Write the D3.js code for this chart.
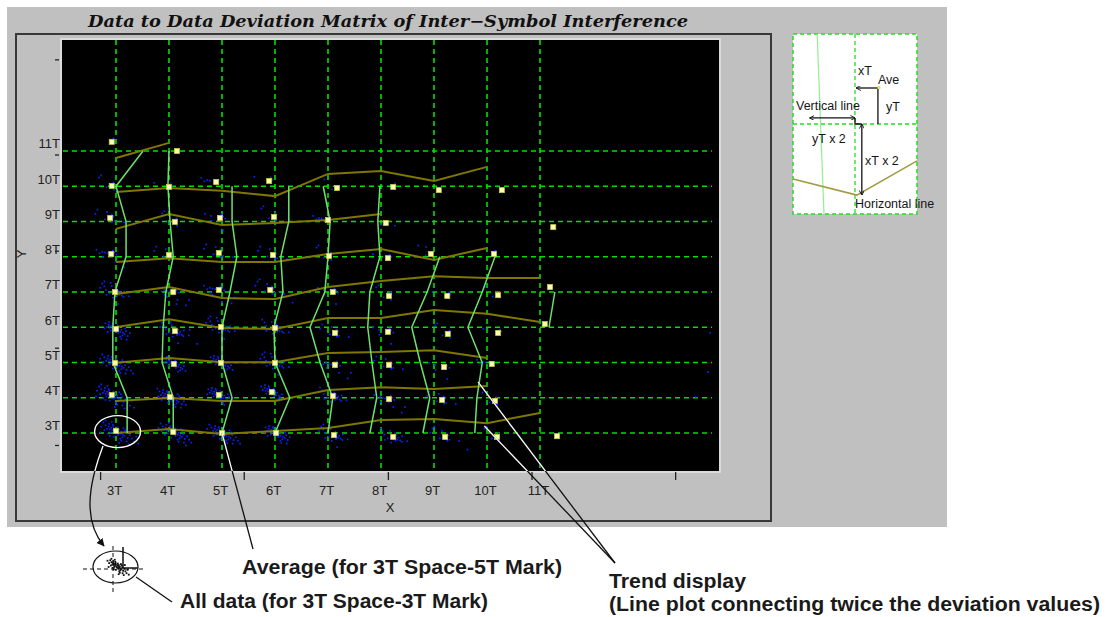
<!DOCTYPE html>
<html>
<head>
<meta charset="utf-8">
<script src="https://cdn.jsdelivr.net/npm/d3@7"></script>
<style>
body { margin: 0; background: #fff; }
svg { display: block; font-family: "Liberation Sans", Arial, sans-serif; }
</style>
</head>
<body>
<script>
// grid values, in T units
var cols = [3, 4, 5, 6, 7, 8, 9, 10, 11];
var rows = [3, 4, 5, 6, 7, 8, 9, 10, 11];
var xTickLabels = ["3T", "4T", "5T", "6T", "7T", "8T", "9T", "10T", "11T"];
var yTickLabels = ["3T", "4T", "5T", "6T", "7T", "8T", "9T", "10T", "11T"];
var minorTicksX = [2.7, 5.41, 8.13, 10.84, 13.55];
var minorTicksY = [2.66, 5.42, 8.17, 10.9, 13.6];

// averages [X, Y] per row (Y = 3T .. 11T)
var avgRows = [
    [[3.0, 3.06], [4.08, 3.03], [5.0, 3.0], [6.02, 3.0], [7.11, 2.94], [8.23, 2.89], [9.21, 2.89], [10.19, 2.89], [11.32, 2.91]],
    [[2.92, 4.08], [4.02, 4.02], [4.94, 4.08], [5.94, 4.16], [7.09, 4.05], [8.15, 3.96], [9.15, 3.94], [10.15, 3.91]],
    [[2.98, 4.99], [4.09, 4.96], [4.98, 4.99], [6.0, 4.99], [7.13, 4.93], [8.15, 4.93], [9.19, 4.87], [10.09, 4.96]],
    [[3.0, 5.95], [4.11, 5.89], [4.98, 6.01], [6.0, 5.98], [7.13, 5.84], [8.13, 5.87], [9.26, 5.81], [10.21, 5.84], [11.09, 6.09]],
    [[2.98, 7.0], [4.08, 7.0], [4.94, 7.06], [5.91, 7.06], [7.09, 7.0], [8.15, 6.89], [9.25, 6.89], [10.21, 6.91], [11.19, 7.14]],
    [[2.91, 8.08], [4.0, 8.05], [4.94, 8.11], [5.96, 8.05], [7.02, 8.02], [8.13, 7.96], [8.94, 8.08], [10.13, 8.08]],
    [[2.89, 9.1], [4.11, 8.99], [4.96, 9.1], [5.98, 9.13], [7.0, 9.04], [8.09, 8.96], [11.25, 8.84]],
    [[2.92, 10.01], [4.0, 9.98], [4.89, 10.12], [5.89, 10.15], [7.17, 9.95], [8.23, 9.98], [9.09, 9.89], [10.28, 9.89]],
    [[2.92, 11.26], [4.15, 11.0]]
];

// how many raw samples are visible round each average
var blueCount = [
    [46, 40, 38, 32, 22, 18, 12, 6, 0],
    [46, 36, 30, 26, 18, 14, 10, 6],
    [38, 28, 26, 22, 14, 10, 8, 5],
    [32, 24, 22, 18, 10, 8, 6, 4, 0],
    [22, 16, 16, 12, 8, 6, 4, 3, 0],
    [14, 10, 10, 10, 6, 4, 3, 2],
    [10, 6, 8, 6, 5, 3, 0],
    [6, 4, 5, 4, 3, 2, 1, 1],
    [2, 1]
];

// sample deviation from the average, [dX, dY] in T
var spread = [
    [0.02, 0.03], [-0.04, 0.05], [0.05, -0.04], [-0.07, 0.02], [0.08, -0.08], [-0.02, -0.03],
    [0.10, -0.02], [-0.09, 0.09], [0.04, -0.11], [-0.12, 0.04], [0.13, -0.10], [-0.05, 0.12],
    [0.06, 0.04], [-0.14, 0.12], [0.16, -0.14], [0.00, -0.07], [-0.10, -0.04], [0.12, -0.18],
    [-0.17, 0.06], [0.19, -0.06], [-0.06, 0.17], [0.08, -0.22], [-0.20, 0.16], [0.22, -0.20],
    [0.03, 0.10], [-0.13, 0.20], [0.17, 0.02], [-0.22, 0.02], [0.26, -0.12], [0.10, -0.28],
    [-0.16, -0.08], [0.20, -0.30], [-0.24, 0.24], [0.30, -0.22], [-0.04, -0.16], [0.14, 0.08],
    [-0.28, 0.12], [0.34, -0.30], [-0.08, 0.26], [0.24, -0.38], [-0.20, 0.30], [0.38, -0.16],
    [0.06, -0.34], [-0.30, -0.04], [0.42, -0.36], [-0.12, -0.14], [0.28, 0.04], [-0.34, 0.22]
];
var outliers = [[14.21, 5.84], [14.17, 4.73], [13.94, 4.02], [8.26, 8.88], [8.85, 8.28]];

// horizontal trend: Y value at X = 3T, 4T, ... for each row
var rowTrend = [
    [3.0, 3.11, 2.97, 3.06, 3.14, 3.37, 3.40, 3.28, 3.57],
    [3.91, 3.99, 3.91, 3.91, 4.22, 4.30, 4.25, 4.33],
    [4.99, 5.13, 5.01, 5.01, 5.27, 5.30, 5.35, 5.13],
    [6.01, 6.23, 5.98, 5.95, 6.26, 6.26, 6.49, 6.38, 6.15],
    [6.94, 7.14, 6.83, 6.80, 7.14, 7.31, 7.45, 7.40, 7.40],
    [7.85, 7.96, 7.85, 7.85, 8.08, 8.22, 7.91, 8.25],
    [8.79, 9.21, 8.90, 8.96, 9.04, 9.21],
    [9.84, 9.95, 9.87, 9.72, 10.35, 10.43, 10.15, 10.55],
    [10.80, 11.23]
];

// vertical trend: X value at Y = start, start+1, ... for each column
var colTrend = [
    [3.21, 3.21, 2.94, 2.94, 2.98, 3.19, 3.19, 3.0, 3.51],
    [4.08, 4.08, 3.87, 3.89, 3.94, 4.08, 4.02, 3.98, 4.0],
    [5.0, 5.19, 5.0, 5.0, 5.15, 5.28, 5.19, 5.19],
    [6.0, 6.28, 6.0, 5.98, 6.15, 6.11, 6.26, 6.26],
    [7.0, 7.09, 6.85, 6.66, 6.94, 7.0, 7.04, 6.91],
    [7.79, 7.92, 7.83, 7.75, 7.79, 7.98, 7.94, 7.98],
    [8.79, 8.92, 8.74, 8.58, 8.87, 9.11],
    [9.77, 9.81, 9.91, 9.64, 9.91, 10.15],
    [11.17, 11.28]
];
var colTrendStart = [3, 3, 3, 3, 3, 3, 3, 3, 6];

var svg = d3.select("body").append("svg")
    .attr("width", 1110)
    .attr("height", 617);

var x = d3.scaleLinear().domain([3, 11]).range([116, 540]);
var y = d3.scaleLinear().domain([3, 11]).range([433, 151]);
var plotL = 62, plotT = 40, plotR = 719, plotB = 471;

svg.append("rect").attr("x", 7).attr("y", 7).attr("width", 940).attr("height", 520).attr("fill", "#c0c0c0");

svg.append("text")
    .attr("x", 88).attr("y", 27)
    .attr("textLength", 600).attr("lengthAdjust", "spacingAndGlyphs")
    .style("font-family", "'DejaVu Serif', serif")
    .style("font-style", "italic").style("font-weight", "bold")
    .style("font-size", "16px").attr("fill", "#111")
    .text("Data to Data Deviation Matrix of Inter\u2212Symbol Interference");

svg.append("rect").attr("x", 16).attr("y", 34).attr("width", 755).attr("height", 487)
    .attr("fill", "none").attr("stroke", "#383838").attr("stroke-width", 2);

svg.append("rect").attr("x", plotL).attr("y", plotT).attr("width", plotR - plotL).attr("height", plotB - plotT)
    .attr("fill", "#000");
svg.append("rect").attr("x", plotL - 1).attr("y", plotT - 1).attr("width", plotR - plotL + 2).attr("height", plotB - plotT + 2)
    .attr("fill", "none").attr("stroke", "#e4e4e4").attr("stroke-width", 1.5);

var defs = svg.append("defs");
defs.append("clipPath").attr("id", "pc").append("rect")
    .attr("x", plotL).attr("y", plotT).attr("width", plotR - plotL).attr("height", plotB - plotT);
defs.append("marker").attr("id", "head").attr("viewBox", "0 0 10 10")
    .attr("refX", 9).attr("refY", 5).attr("markerWidth", 8).attr("markerHeight", 8)
    .attr("markerUnits", "userSpaceOnUse").attr("orient", "auto")
    .append("path").attr("d", "M0,0 L10,5 L0,10 Z").attr("fill", "#111");
defs.append("marker").attr("id", "tip").attr("viewBox", "0 0 8 8")
    .attr("refX", 7.5).attr("refY", 4).attr("markerWidth", 5).attr("markerHeight", 5)
    .attr("markerUnits", "userSpaceOnUse").attr("orient", "auto-start-reverse")
    .append("path").attr("d", "M0,0 L8,4 L0,8").attr("fill", "none").attr("stroke", "#111").attr("stroke-width", 1.4);

var plot = svg.append("g").attr("clip-path", "url(#pc)");

// dashed grid
plot.selectAll(".vg").data(cols).enter().append("line")
    .attr("x1", d => x(d)).attr("x2", d => x(d))
    .attr("y1", plotT).attr("y2", plotB)
    .attr("stroke", "#00e000").attr("stroke-width", 1.6).attr("stroke-dasharray", "5,4");
plot.selectAll(".hg").data(rows).enter().append("line")
    .attr("x1", 63).attr("x2", 712)
    .attr("y1", d => y(d)).attr("y2", d => y(d))
    .attr("stroke", "#00e000").attr("stroke-width", 1.6).attr("stroke-dasharray", "5,4");

// raw samples
var samples = [];
avgRows.forEach(function (row, ri) {
    row.forEach(function (p, j) {
        var n = blueCount[ri][j];
        if (!n) return;
        var step = Math.max(1, Math.floor(spread.length / n));
        for (var k = 0; k < n; k++) {
            var s = spread[(k * step) % spread.length];
            samples.push([p[0] + s[0], p[1] + s[1]]);
        }
    });
});
samples = samples.concat(outliers);

plot.selectAll(".smp").data(samples).enter().append("rect")
    .attr("x", d => x(d[0]) - 0.8).attr("y", d => y(d[1]) - 0.8)
    .attr("width", 1.7).attr("height", 1.7)
    .attr("fill", "#0a22ff");

// trend lines
var line = d3.line().x(d => x(d[0])).y(d => y(d[1]));

plot.selectAll(".ht").data(rowTrend).enter().append("path")
    .attr("d", (vals, ri) => line(vals.map((v, j) => [cols[j], v])))
    .attr("fill", "none").attr("stroke", "#7f7700").attr("stroke-width", 2);

plot.selectAll(".vt").data(colTrend).enter().append("path")
    .attr("d", (vals, ci) => line(vals.map((v, j) => [v, colTrendStart[ci] + j])))
    .attr("fill", "none").attr("stroke", "#6fe06f").attr("stroke-width", 1.5);

// averages
var avgs = [].concat.apply([], avgRows);
plot.selectAll(".avg").data(avgs).enter().append("rect")
    .attr("x", d => x(d[0]) - 2.5).attr("y", d => y(d[1]) - 2.5)
    .attr("width", 5).attr("height", 5)
    .attr("fill", "#ffffb0").attr("stroke", "#c8c850").attr("stroke-width", 0.8);

// axes
var xAxis = svg.append("g").attr("transform", "translate(0," + plotB + ")")
    .call(d3.axisBottom(x).tickValues(cols).tickFormat((d, i) => xTickLabels[i]).tickSize(0).tickPadding(15));
var yAxis = svg.append("g").attr("transform", "translate(" + plotL + ",0)")
    .call(d3.axisLeft(y).tickValues(rows).tickFormat((d, i) => yTickLabels[i]).tickSize(0).tickPadding(2));
[xAxis, yAxis].forEach(function (g) {
    g.select(".domain").remove();
    g.attr("font-family", "'Liberation Sans', Arial, sans-serif").attr("font-size", 13);
    g.selectAll("text").attr("fill", "#222");
});
xAxis.selectAll("text").attr("dx", -2);
yAxis.selectAll("text").attr("dy", "-0.25em");

var xMinor = svg.append("g").attr("transform", "translate(0," + (plotB + 1) + ")")
    .call(d3.axisBottom(x).tickValues(minorTicksX).tickSize(8).tickFormat(""));
var yMinor = svg.append("g").attr("transform", "translate(59,0)")
    .call(d3.axisLeft(y).tickValues(minorTicksY).tickSize(4).tickFormat(""));
[xMinor, yMinor].forEach(function (g) {
    g.select(".domain").remove();
    g.selectAll("line").attr("stroke", "#222").attr("stroke-width", 1.3);
});

svg.append("text").attr("x", 390).attr("y", 512).attr("text-anchor", "middle")
    .attr("font-size", 13).attr("fill", "#222").text("X");
svg.append("text").attr("transform", "translate(26,254) rotate(-90)").attr("text-anchor", "middle")
    .attr("font-size", 13).attr("fill", "#222").text("Y");

// call-outs: black everywhere, white where they cross the black plot
var callouts = [
    "M" + x(5.0) + "," + y(3.0) + " L253,549",
    "M" + x(9.83) + "," + y(4.45) + " L615,563",
    "M" + x(9.95) + "," + y(3.2) + " L615,563",
    "M136,577 L172,602"
];
svg.selectAll(".co").data(callouts).enter().append("path")
    .attr("d", d => d).attr("fill", "none").attr("stroke", "#111").attr("stroke-width", 1.3);
svg.selectAll(".cow").data(callouts).enter().append("path")
    .attr("clip-path", "url(#pc)")
    .attr("d", d => d).attr("fill", "none").attr("stroke", "#fff").attr("stroke-width", 1.3);

var curve = "M103,446 C87,488 84,522 104,546";
svg.append("path").attr("d", curve).attr("fill", "none").attr("stroke", "#111")
    .attr("stroke-width", 1.3).attr("marker-end", "url(#head)");
svg.append("path").attr("d", curve).attr("fill", "none").attr("stroke", "#fff")
    .attr("stroke-width", 1.3).attr("clip-path", "url(#pc)");

svg.append("ellipse").attr("cx", x(3.03)).attr("cy", y(3.04)).attr("rx", 23).attr("ry", 16)
    .attr("fill", "none").attr("stroke", "#fff").attr("stroke-width", 1.4);

// small copy of the 3T-3T cluster
var ic = svg.append("g");
ic.append("line").attr("x1", 83).attr("x2", 143).attr("y1", 569).attr("y2", 569)
    .attr("stroke", "#111").attr("stroke-dasharray", "4,3");
ic.append("line").attr("x1", 113).attr("x2", 113).attr("y1", 546).attr("y2", 594)
    .attr("stroke", "#111").attr("stroke-dasharray", "4,3");
ic.selectAll(".id").data(spread).enter().append("rect")
    .attr("x", d => 117 + d[0] * 28 - 0.9).attr("y", d => 566 - d[1] * 24 - 0.9)
    .attr("width", 1.8).attr("height", 1.8).attr("fill", "#111");
ic.append("path").attr("d", "M123,547 L123,568 L138,568").attr("fill", "none")
    .attr("stroke", "#111").attr("stroke-width", 1.5);
ic.append("ellipse").attr("cx", 115.5).attr("cy", 567).attr("rx", 22.5).attr("ry", 16)
    .attr("fill", "none").attr("stroke", "#111").attr("stroke-width", 1.2);

// explanation texts
var notes = [
    { t: "Average (for 3T Space-5T Mark)", x: 242, y: 574, w: 320 },
    { t: "All data (for 3T Space-3T Mark)", x: 180, y: 608, w: 308 },
    { t: "Trend display", x: 609, y: 588, w: 137 },
    { t: "(Line plot connecting twice the deviation values)", x: 609, y: 611, w: 491 }
];
svg.selectAll(".note").data(notes).enter().append("text")
    .attr("x", d => d.x).attr("y", d => d.y)
    .attr("textLength", d => d.w).attr("lengthAdjust", "spacingAndGlyphs")
    .attr("font-size", 20).attr("font-weight", "bold").attr("fill", "#1a1a1a")
    .text(d => d.t);

// inset: how the trend points are derived
var inX = d3.scaleLinear().domain([0, 2]).range([793, 917]);
var inY = d3.scaleLinear().domain([0, 2]).range([34, 214]);
var inLine = d3.line().x(d => inX(d[0])).y(d => inY(d[1]));
var ins = svg.append("g");
ins.append("rect").attr("x", inX(0)).attr("y", inY(0)).attr("width", inX(2) - inX(0)).attr("height", inY(2) - inY(0))
    .attr("fill", "#fff").attr("stroke", "#22dd22").attr("stroke-width", 1.5).attr("stroke-dasharray", "4,3");
ins.append("path").attr("d", inLine([[1, 0], [1, 2]])).attr("stroke", "#22dd22").attr("stroke-width", 1.3).attr("stroke-dasharray", "4,3");
ins.append("path").attr("d", inLine([[0, 1], [2, 1]])).attr("stroke", "#22dd22").attr("stroke-width", 1.3).attr("stroke-dasharray", "4,3");
ins.append("path").attr("d", inLine([[0.39, 0], [0.5, 2]])).attr("fill", "none").attr("stroke", "#90f090").attr("stroke-width", 1.2);
ins.append("path").attr("d", inLine([[0, 1.61], [1.03, 1.79], [2, 1.41]])).attr("fill", "none").attr("stroke", "#a09a40").attr("stroke-width", 1.5);
ins.append("path").attr("d", inLine([[1.387, 0.6], [1.02, 0.6]])).attr("fill", "none").attr("stroke", "#111").attr("stroke-width", 1.3).attr("marker-end", "url(#tip)");
ins.append("path").attr("d", inLine([[1.37, 0.6], [1.37, 1]])).attr("fill", "none").attr("stroke", "#111").attr("stroke-width", 1.3);
ins.append("path").attr("d", inLine([[0.27, 0.933], [1.0, 0.933]])).attr("fill", "none").attr("stroke", "#111").attr("stroke-width", 1.3)
    .attr("marker-start", "url(#tip)").attr("marker-end", "url(#tip)");
ins.append("path").attr("d", inLine([[1.0, 0.933], [1.0, 1.0], [1.11, 1.0]])).attr("fill", "none").attr("stroke", "#111").attr("stroke-width", 1.3);
ins.append("path").attr("d", inLine([[1.11, 1.0], [1.11, 1.79]])).attr("fill", "none").attr("stroke", "#111").attr("stroke-width", 1.3)
    .attr("marker-start", "url(#tip)").attr("marker-end", "url(#tip)");
ins.append("rect").attr("x", inX(1.387) - 1.5).attr("y", inY(0.6) - 2).attr("width", 3).attr("height", 3).attr("fill", "#e8e070");

var insetText = [
    { t: "xT", x: 858, y: 75 }, { t: "Ave", x: 878, y: 84 }, { t: "yT", x: 886, y: 111 },
    { t: "Vertical line", x: 796, y: 110 }, { t: "yT x 2", x: 812, y: 143 },
    { t: "xT x 2", x: 865, y: 165 }, { t: "Horizontal line", x: 855, y: 208 }
];
ins.selectAll(".it").data(insetText).enter().append("text")
    .attr("x", d => d.x).attr("y", d => d.y)
    .attr("font-size", 12.5).attr("fill", "#151515")
    .text(d => d.t);
</script>
</body>
</html>
